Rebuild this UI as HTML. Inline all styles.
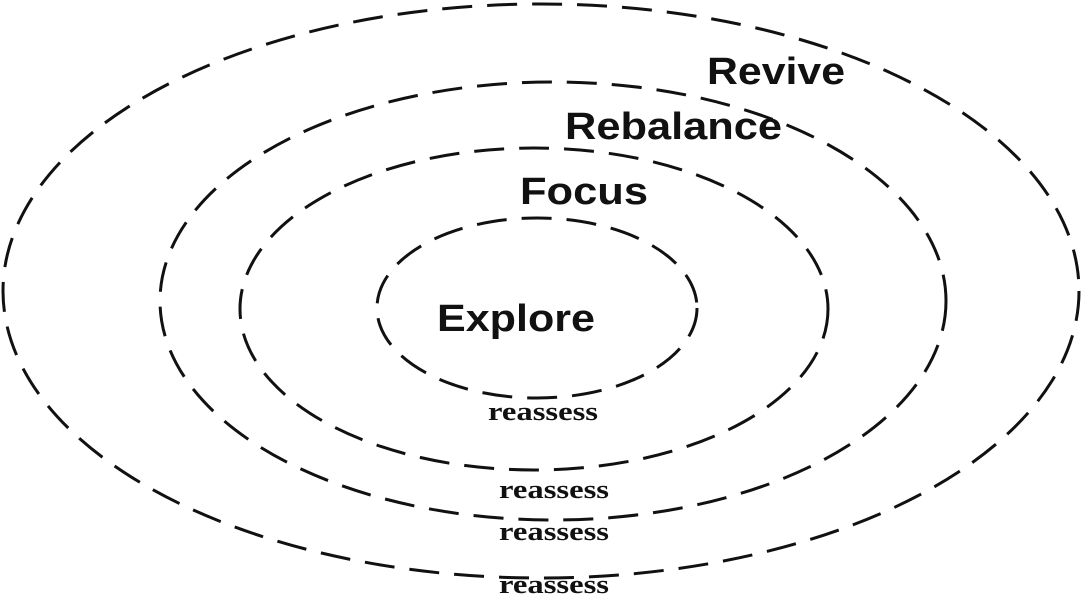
<!DOCTYPE html>
<html><head><style>
html,body{margin:0;padding:0;background:#fff;}
</style></head><body>
<svg width="1083" height="600" viewBox="0 0 1083 600" xmlns="http://www.w3.org/2000/svg">
<g fill="none" stroke="#111" stroke-width="3" stroke-dasharray="30 15">
<ellipse cx="541" cy="291" rx="538" ry="287"/>
<ellipse cx="553" cy="301" rx="393" ry="219"/>
<ellipse cx="534" cy="309" rx="294" ry="161"/>
<ellipse cx="537" cy="308" rx="160" ry="90"/>
</g>
<g font-family="Liberation Sans, sans-serif" font-weight="bold" font-size="38" fill="#111" lengthAdjust="spacingAndGlyphs">
<text x="707" y="84" textLength="138" lengthAdjust="spacingAndGlyphs">Revive</text>
<text x="565" y="139" textLength="217" lengthAdjust="spacingAndGlyphs">Rebalance</text>
<text x="520" y="204" textLength="128" lengthAdjust="spacingAndGlyphs">Focus</text>
<text x="437" y="331" textLength="158" lengthAdjust="spacingAndGlyphs">Explore</text>
</g>
<g font-family="Liberation Serif, serif" font-weight="bold" font-size="26" fill="#111">
<text x="488" y="420" textLength="110" lengthAdjust="spacingAndGlyphs">reassess</text>
<text x="499" y="498" textLength="110" lengthAdjust="spacingAndGlyphs">reassess</text>
<text x="499" y="540" textLength="110" lengthAdjust="spacingAndGlyphs">reassess</text>
<text x="499" y="593" textLength="110" lengthAdjust="spacingAndGlyphs">reassess</text>
</g>
</svg>
</body></html>
